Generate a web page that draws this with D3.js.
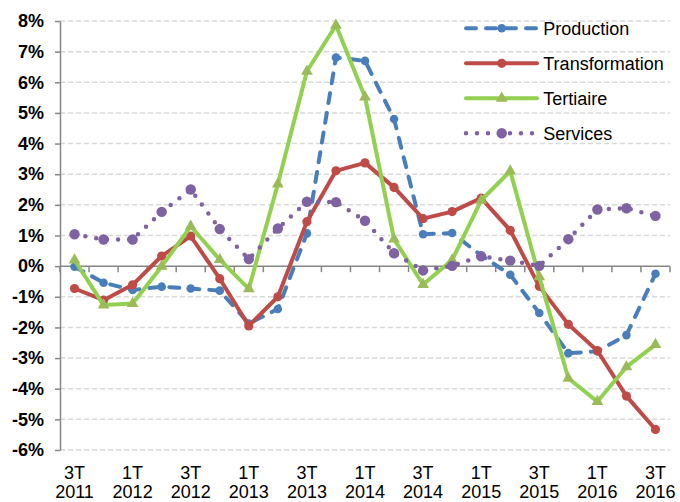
<!DOCTYPE html>
<html><head><meta charset="utf-8">
<script src="https://cdn.jsdelivr.net/npm/d3@7"></script>
<style>
html,body{margin:0;padding:0;background:#fff;}
svg{display:block;font-family:"Liberation Sans",Arial,sans-serif;}
</style></head>
<body><svg id="chart" width="680" height="502"></svg>
<script>
const categories = ["3T 2011","4T 2011","1T 2012","2T 2012","3T 2012","4T 2012","1T 2013","2T 2013","3T 2013","4T 2013","1T 2014","2T 2014","3T 2014","4T 2014","1T 2015","2T 2015","3T 2015","4T 2015","1T 2016","2T 2016","3T 2016"];
const production     = [-0.02,-0.54,-0.78,-0.67,-0.73,-0.80,-1.87,-1.40,1.07,6.81,6.70,4.80,1.04,1.08,0.35,-0.28,-1.53,-2.84,-2.78,-2.25,-0.25];
const transformation = [-0.73,-1.11,-0.61,0.33,0.98,-0.41,-1.95,-1.00,1.45,3.11,3.37,2.57,1.55,1.78,2.22,1.17,-0.66,-1.90,-2.76,-4.24,-5.33];
const tertiaire      = [0.20,-1.27,-1.22,-0.01,1.30,0.21,-0.74,2.68,6.36,7.86,5.52,0.88,-0.60,0.20,2.15,3.10,-0.35,-3.66,-4.42,-3.29,-2.56];
const services       = [1.04,0.87,0.87,1.77,2.50,1.21,0.23,1.23,2.10,2.09,1.48,0.42,-0.14,0.01,0.32,0.18,0.01,0.88,1.85,1.89,1.64];
const yTicks = [-6,-5,-4,-3,-2,-1,0,1,2,3,4,5,6,7,8];
const seriesNames = ["Production","Transformation","Tertiaire","Services"];

const series = [
  {name:seriesNames[0], values:production, color:"#4a7ebb", dash:"10,10", marker:"circle", r:4.3, mcolor:"#4a7ebb"},
  {name:seriesNames[1], values:transformation, color:"#be4b48", dash:null, marker:"circle", r:4.6, mcolor:"#be4b48"},
  {name:seriesNames[2], values:tertiaire, color:"#92d050", dash:null, marker:"triangle", r:5, mcolor:"#9bbb59"},
  {name:seriesNames[3], values:services, color:"#7f62a1", dash:"0,11", marker:"circle", r:5.2, mcolor:"#7f62a1"}
];

const svg = d3.select("#chart");
const x = d3.scaleBand().domain(categories).range([60,670]).paddingInner(0).paddingOuter(0);
const y = d3.scaleLinear().domain([-6,8]).range([450,21]);
const cx = c => x(c) + x.bandwidth()/2;

// gridlines
svg.append("g").selectAll("line").data(yTicks.filter(d=>d!==0)).join("line")
  .attr("x1",60).attr("x2",670).attr("y1",d=>y(d)).attr("y2",d=>y(d))
  .attr("stroke","#d9d9d9").attr("stroke-width",1.5).attr("stroke-dasharray","5,3");

// y axis
const yAxis = d3.axisLeft(y).tickValues(yTicks).tickFormat(d=>d+"%").tickSize(5).tickSizeOuter(0).tickPadding(11);
const gy = svg.append("g").attr("transform","translate(60,0)").call(yAxis);
gy.select(".domain").attr("stroke","#868686").attr("stroke-width",1.5);
gy.selectAll(".tick line").attr("stroke","#868686").attr("stroke-width",1.5);
gy.selectAll(".tick text").attr("fill","#000").style("font-size","18px").style("font-weight","bold")
  .style("font-family","'Liberation Sans',Arial,sans-serif");

// x axis line at 0 with boundary ticks
const bounds = categories.map(c=>x(c)).concat([x.range()[1]]);
const gx = svg.append("g");
gx.append("line").attr("x1",60).attr("x2",670).attr("y1",y(0)).attr("y2",y(0))
  .attr("stroke","#868686").attr("stroke-width",1.5);
gx.selectAll("line.tk").data(bounds).join("line").attr("class","tk")
  .attr("x1",d=>d).attr("x2",d=>d).attr("y1",y(0)).attr("y2",y(0)+6)
  .attr("stroke","#868686").attr("stroke-width",1.5);

// x labels
const lbl = svg.append("g").selectAll("text").data(categories.filter((c,i)=>i%2===0)).join("text")
  .attr("text-anchor","middle").style("font-size","18px").attr("fill","#000");
lbl.append("tspan").attr("x",d=>cx(d)).attr("y",478.5).text(d=>d.split(" ")[0]);
lbl.append("tspan").attr("x",d=>cx(d)).attr("y",497.5).text(d=>d.split(" ")[1]);

// series
const line = d3.line().x((d,i)=>cx(categories[i])).y(d=>y(d));
const tri = d3.symbol().type(d3.symbolTriangle).size(60);
series.forEach(s=>{
  const g = svg.append("g");
  g.append("path").datum(s.values).attr("d",line).attr("fill","none")
    .attr("stroke",s.color).attr("stroke-width",s.name==="Services"?4.5:4)
    .attr("stroke-linecap","round").attr("stroke-linejoin","round")
    .attr("stroke-dasharray",s.dash);
  if(s.marker==="circle"){
    g.selectAll("circle").data(s.values).join("circle")
      .attr("cx",(d,i)=>cx(categories[i])).attr("cy",d=>y(d)).attr("r",s.r).attr("fill",s.mcolor);
  } else {
    g.selectAll("path.m").data(s.values).join("path").attr("class","m")
      .attr("transform",(d,i)=>`translate(${cx(categories[i])},${y(d)})`).attr("d",tri).attr("fill",s.mcolor);
  }
});

// legend
const leg = svg.append("g");
series.forEach((s,k)=>{
  const yy = 28.3 + k*35;
  leg.append("line").attr("x1",466).attr("x2",537).attr("y1",yy).attr("y2",yy)
    .attr("stroke",s.color).attr("stroke-width",s.name==="Services"?4.5:4)
    .attr("stroke-linecap","round").attr("stroke-dasharray",s.dash);
  if(s.marker==="circle"){
    leg.append("circle").attr("cx",501.7).attr("cy",yy).attr("r",s.r).attr("fill",s.mcolor);
  } else {
    leg.append("path").attr("transform",`translate(501.7,${yy})`).attr("d",tri).attr("fill",s.mcolor);
  }
  leg.append("text").attr("x",543.3).attr("y",yy).attr("dy","0.35em").style("font-size","18px").attr("fill","#000").text(s.name);
});
</script></body></html>
